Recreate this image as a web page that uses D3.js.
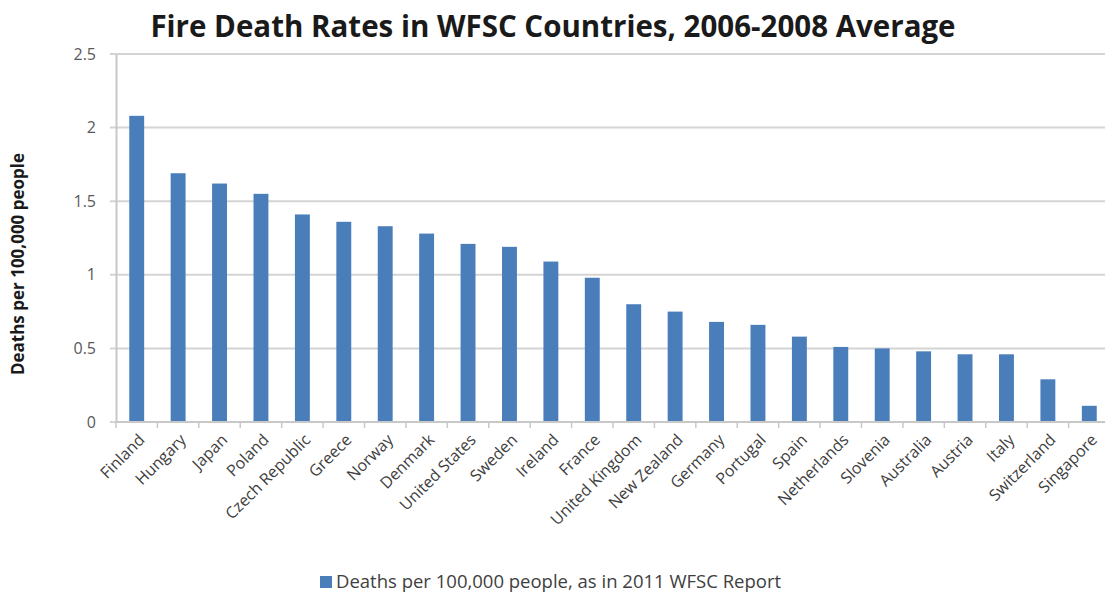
<!DOCTYPE html>
<html>
<head>
<meta charset="utf-8">
<script src="https://cdn.jsdelivr.net/npm/d3@7"></script>
<style>
  body { margin: 0; background: #fff; }
  svg { display: block; font-family: "Open Sans", Lato, sans-serif; }
</style>
</head>
<body>
<svg id="chart" width="1105" height="599"></svg>
<script>
const countries = ["Finland", "Hungary", "Japan", "Poland", "Czech Republic", "Greece", "Norway",
  "Denmark", "United States", "Sweden", "Ireland", "France", "United Kingdom", "New Zealand",
  "Germany", "Portugal", "Spain", "Netherlands", "Slovenia", "Australia", "Austria", "Italy",
  "Switzerland", "Singapore"];
const rates = [2.08, 1.69, 1.62, 1.55, 1.41, 1.36, 1.33, 1.28, 1.21, 1.19, 1.09, 0.98,
  0.80, 0.75, 0.68, 0.66, 0.58, 0.51, 0.50, 0.48, 0.46, 0.46, 0.29, 0.11];
const yTicks = [0, 0.5, 1, 1.5, 2, 2.5];
const seriesName = "Deaths per 100,000 people, as in 2011 WFSC Report";

const svg = d3.select("#chart");
const margin = { top: 54, left: 116 },
  plotW = 994,
  plotH = 368;

const data = countries.map((c, i) => ({ country: c, value: rates[i] }));

const x = d3.scaleBand().domain(countries).range([0, plotW]).paddingInner(0.64).paddingOuter(0.32);
const y = d3.scaleLinear().domain([0, 2.5]).range([plotH, 0]);

const g = svg.append("g").attr("transform", "translate(" + margin.left + "," + margin.top + ")");

// gridlines
g.append("g")
  .selectAll("line")
  .data(yTicks)
  .join("line")
  .attr("x1", -6)
  .attr("x2", plotW)
  .attr("y1", (d) => y(d))
  .attr("y2", (d) => y(d))
  .attr("stroke", "#d4d4d4")
  .attr("stroke-width", 2);

// y axis
const yAxis = d3.axisLeft(y).tickValues(yTicks).tickSize(0).tickPadding(20).tickFormat((d) => d);
g.append("g")
  .call(yAxis)
  .call((a) => a.select(".domain").attr("stroke", "#c8c8c8").attr("stroke-width", 2))
  .call((a) => a.selectAll("text").attr("fill", "#595959").style("font-size", "16px").style("font-family", "Open Sans, sans-serif"));

// bars
g.append("g")
  .selectAll("rect")
  .data(data)
  .join("rect")
  .attr("x", (d) => x(d.country))
  .attr("y", (d) => y(d.value))
  .attr("width", x.bandwidth())
  .attr("height", (d) => plotH - y(d.value))
  .attr("fill", "#4a7ebb");

// x axis with ticks at band boundaries
const step = x.step();
const boundaries = d3.range(countries.length + 1).map((i) => i * step);
g.append("line")
  .attr("x1", 0).attr("x2", plotW)
  .attr("y1", plotH).attr("y2", plotH)
  .attr("stroke", "#c8c8c8").attr("stroke-width", 2);
g.append("g")
  .selectAll("line")
  .data(boundaries)
  .join("line")
  .attr("x1", (d) => d).attr("x2", (d) => d)
  .attr("y1", plotH).attr("y2", plotH + 6)
  .attr("stroke", "#c8c8c8").attr("stroke-width", 1.5);

g.append("g")
  .selectAll("text")
  .data(countries)
  .join("text")
  .attr("transform", (d) => "translate(" + (x(d) + x.bandwidth() / 2 + 1) + "," + (plotH + 11) + ") rotate(-45)")
  .attr("text-anchor", "end")
  .attr("dy", "0.7em")
  .attr("fill", "#404040")
  .style("font-size", "16px")
  .text((d) => d);

// title
svg.append("text")
  .attr("x", 553)
  .attr("y", 37)
  .attr("text-anchor", "middle")
  .attr("fill", "#1a1a1a")
  .style("font-size", "29.5px")
  .style("font-weight", "bold")
  .text("Fire Death Rates in WFSC Countries, 2006-2008 Average");

// y axis title
svg.append("text")
  .attr("transform", "translate(24,264) rotate(-90)")
  .attr("text-anchor", "middle")
  .attr("fill", "#1a1a1a")
  .style("font-size", "17px")
  .style("font-weight", "bold")
  .text("Deaths per 100,000 people");

// legend
const legend = svg.append("g").attr("transform", "translate(320,582)");
legend.append("rect").attr("x", 0).attr("y", -6).attr("width", 12).attr("height", 12).attr("fill", "#4a7ebb");
legend.append("text")
  .attr("x", 16)
  .attr("dy", "0.35em")
  .attr("fill", "#404040")
  .style("font-size", "18.5px")
  .text(seriesName);
</script>
</body>
</html>
